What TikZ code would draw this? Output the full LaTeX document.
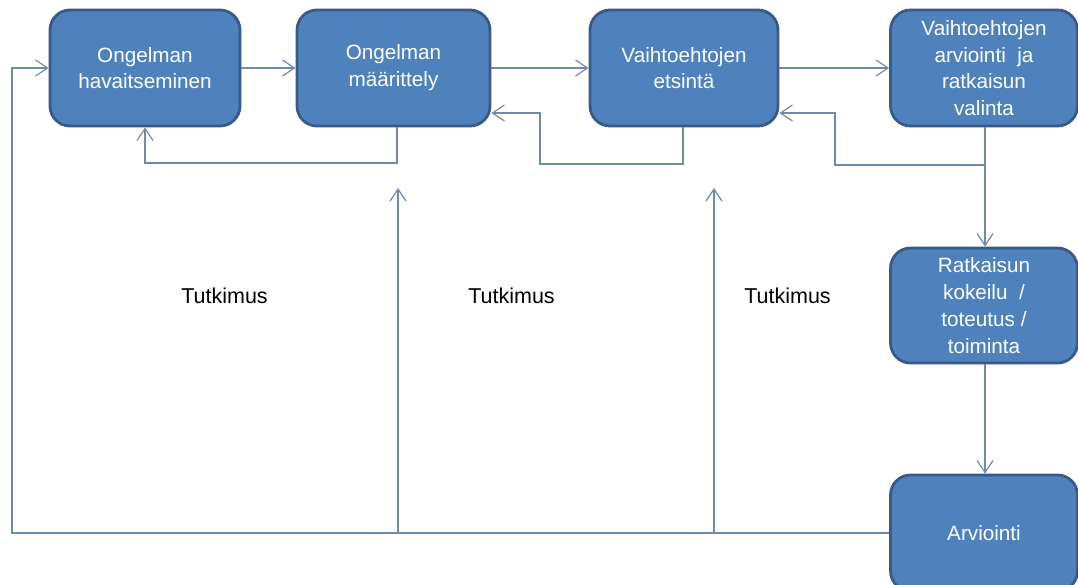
\documentclass[tikz,border=0pt]{standalone}
\usepackage{fontspec}
\setmainfont{Liberation Sans}
\usetikzlibrary{arrows.meta}
\definecolor{boxfill}{HTML}{4F81BD}
\definecolor{boxline}{HTML}{375A87}
\definecolor{wire}{HTML}{7189AD}

\begin{document}
\begin{tikzpicture}[x=1pt,y=-1pt,
  stage/.style={draw=boxline, line width=2.8pt, fill=boxfill, rounded corners=20pt,
    text=white, font=\fontsize{20.7}{26.8}\selectfont, align=center, inner sep=0pt,
    minimum height=116pt},
  link/.style={draw=wire, line width=1.2pt,
    -{Straight Barb[length=12pt,width=16pt,line width=1.2pt]}},
  lbl/.style={font=\fontsize{21.5}{25}\selectfont, text=black, inner sep=0pt}]
\useasboundingbox (0,0) rectangle (1078,584);
\clip (0,0) rectangle (1078,584);

% process stages
\node[stage, minimum width=190pt] (s1) at (145,68) {Ongelman\\havaitseminen};
\node[stage, minimum width=193pt] (s2) at (393.5,68) {Ongelman\\määrittely};
\node[stage, minimum width=188pt] (s3) at (684,68) {Vaihtoehtojen\\etsintä};
\node[stage, minimum width=187pt] (s4) at (984,68) {Vaihtoehtojen\\arviointi~ ja\\ratkaisun\\valinta};
\node[stage, minimum width=187pt, minimum height=115pt] (s5) at (984,305.5) {Ratkaisun\\kokeilu~ /\\toteutus /\\toiminta};
\node[stage, minimum width=187pt] (s6) at (984,533) {Arviointi};

% labels
\node[lbl] (t1) at (224.5,296) {Tutkimus};
\node[lbl] (t2) at (511.5,296) {Tutkimus};
\node[lbl] (t3) at (787.5,296) {Tutkimus};

% corner points of the return paths
\coordinate (lp) at (12,533);
\coordinate (fa) at (397,163);
\coordinate (fb) at (683,164);
\coordinate (fbx) at (540,113);
\coordinate (fc) at (985,165);
\coordinate (fcx) at (835,113);
\coordinate (u1) at (398,188);
\coordinate (u2) at (714,188);

% forward flow
\draw[link] (s1.east) -- (s2.west);
\draw[link] (s2.east) -- (s3.west);
\draw[link] (s3.east) -- (s4.west);
\draw[link] (s4.south -| fc) -- (s5.north -| fc);
\draw[link] (s5.south -| fc) -- (s6.north -| fc);

% feedback loops
\draw[link] (s2.south -| fa) -- (fa) -| (s1.south);
\draw[link] (s3.south -| fb) -- (fb) -- (fb -| fbx) -- (fbx) -- (fbx -| s2.east);
\draw[link] (s4.south -| fc) -- (fc) -- (fc -| fcx) -- (fcx) -- (fcx -| s3.east);

% evaluation back to the start, with research branches
\draw[link] (s6.west) -- (lp) |- (s1.west);
\draw[link] (u1 |- lp) -- (u1);
\draw[link] (u2 |- lp) -- (u2);
\end{tikzpicture}
\end{document}
